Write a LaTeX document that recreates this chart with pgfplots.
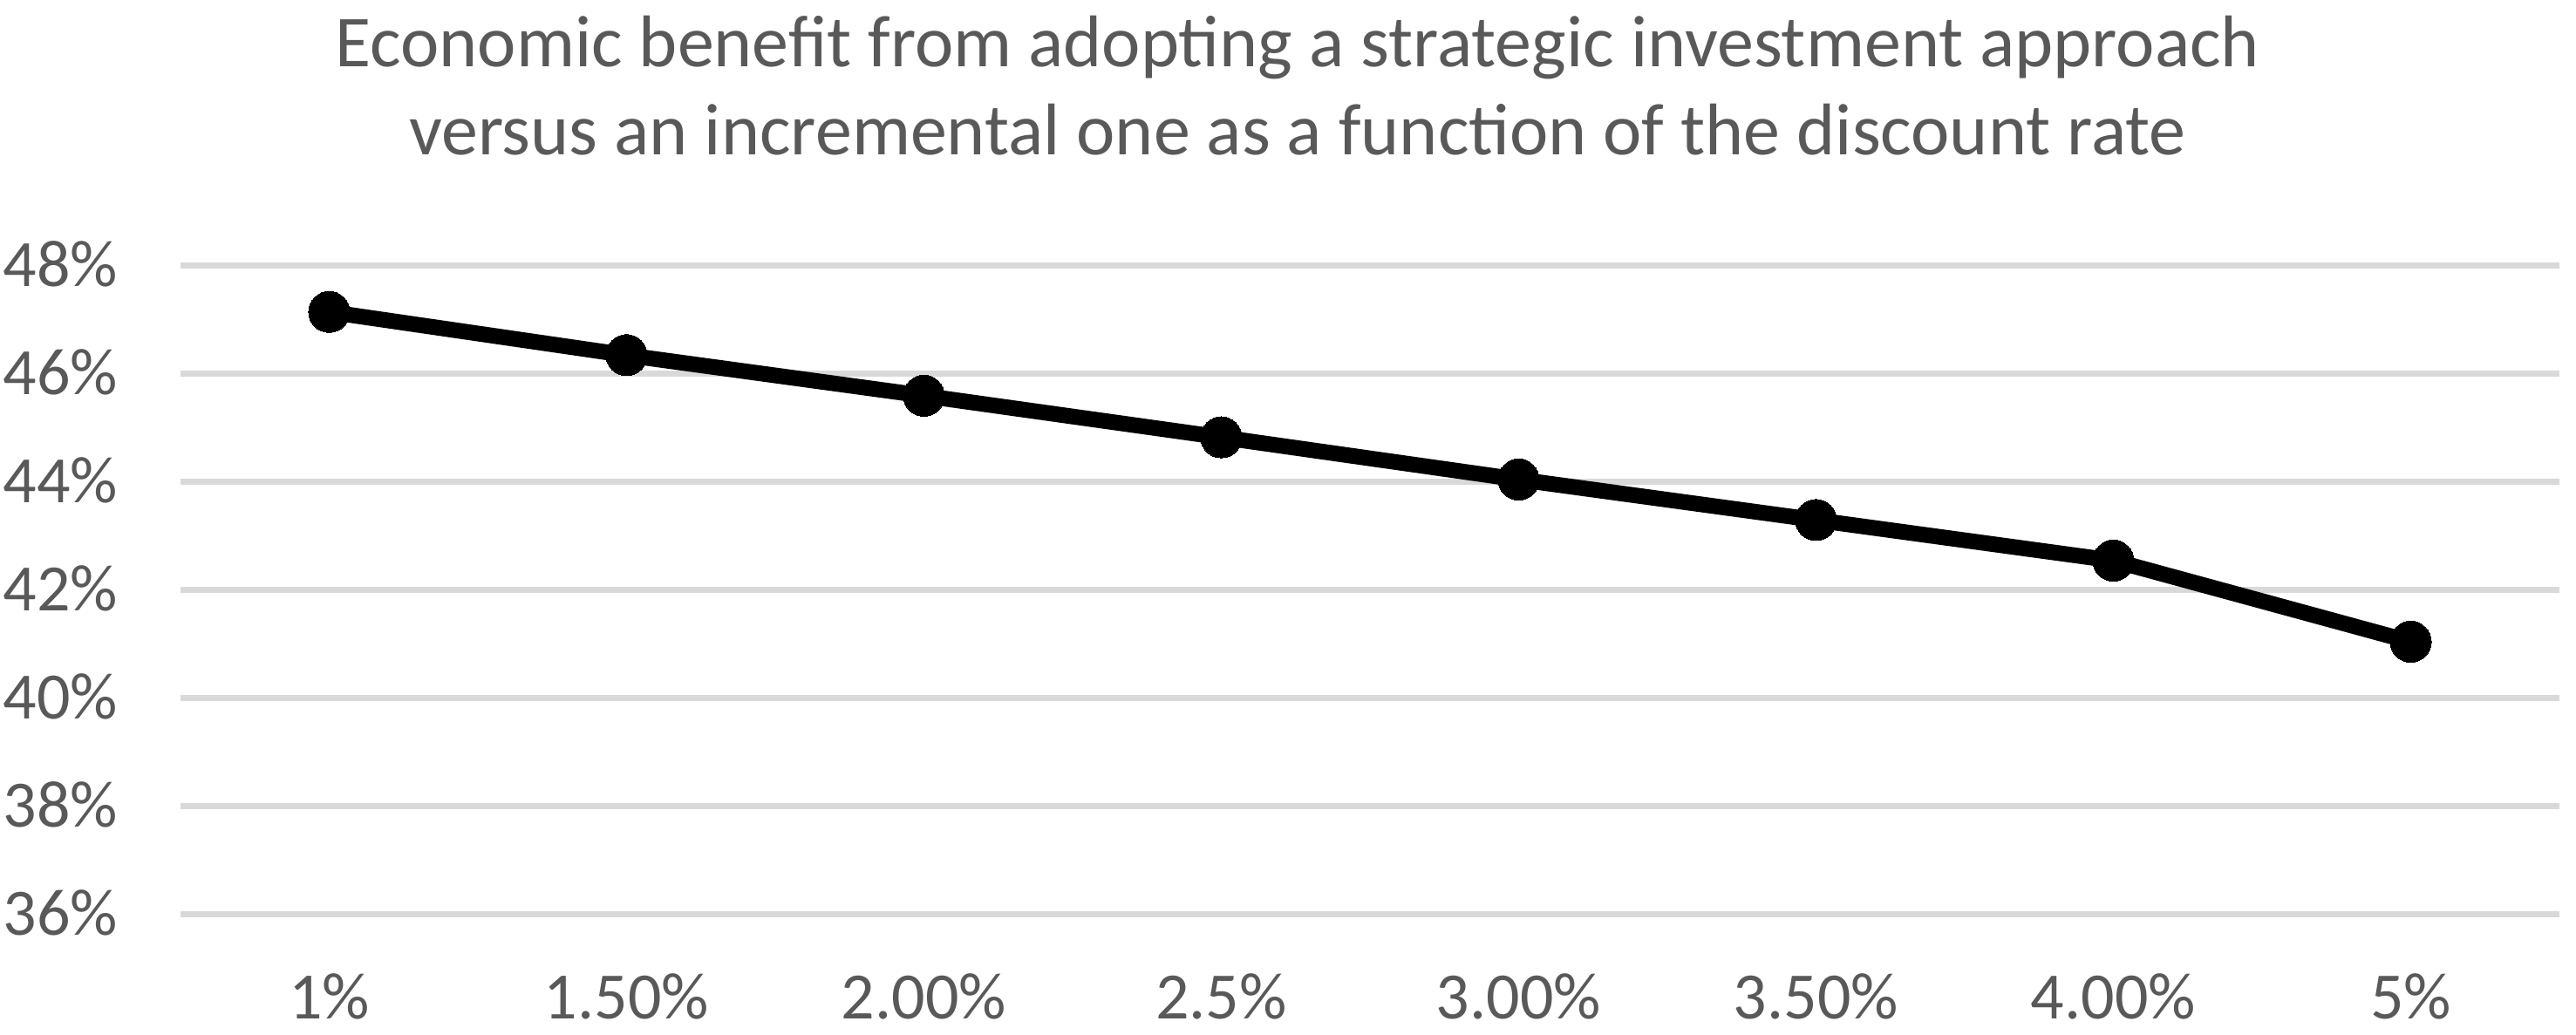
\documentclass[border=0pt]{standalone}
\usepackage{fontspec}
\setmainfont{Carlito}
\usepackage{pgfplots}
\pgfplotsset{compat=1.18}
\definecolor{txt}{HTML}{595959}
\definecolor{grd}{HTML}{D9D9D9}
\begin{document}
\begin{tikzpicture}
\path[use as bounding box] (0pt,0pt) rectangle (738.5pt,296.75pt);
\node[anchor=base, text=txt, font=\fontsize{21}{25}\selectfont, inner sep=0pt] at (372pt,277.5pt) {Economic benefit from adopting a strategic investment approach};
\node[anchor=base, text=txt, font=\fontsize{21}{25}\selectfont, inner sep=0pt] at (372pt,252.25pt) {versus an incremental one as a function of the discount rate};
\begin{axis}[
  at={(51.75pt,34.5pt)}, anchor=south west,
  scale only axis, width=682pt, height=186pt,
  xmin=-0.5, xmax=7.5, ymin=36, ymax=48,
  xtick={0,...,7},
  xticklabels={1\%,1.50\%,2.00\%,2.5\%,3.00\%,3.50\%,4.00\%,5\%},
  ytick={36,38,...,48},
  yticklabel={\pgfmathprintnumber{\tick}\%},
  /pgf/number format/assume math mode=true,
  axis line style={draw=none},
  major tick length=0pt,
  ymajorgrids, xmajorgrids=false,
  major grid style={draw=grd, line width=1.75pt},
  ticklabel style={text=txt, font=\fontsize{19}{22}\selectfont, inner sep=0pt},
  xticklabel style={anchor=base, yshift=-30pt},
  yticklabel style={anchor=base east, xshift=-17.75pt, yshift=-5.9pt},
  clip=false,
]
\addplot[black, line width=4.5pt, mark=*, mark size=5.9pt, mark options={solid, fill=black, line width=0pt}]
coordinates {(0,47.15) (1,46.35) (2,45.6) (3,44.83) (4,44.05) (5,43.3) (6,42.55) (7,41.05)};
\end{axis}
\end{tikzpicture}
\end{document}
